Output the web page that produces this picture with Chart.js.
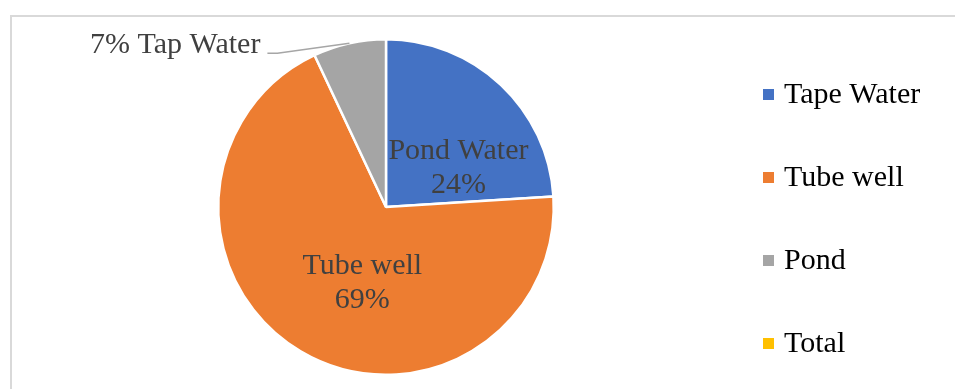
<!DOCTYPE html>
<html>
<head>
<meta charset="utf-8">
<script src="https://cdn.jsdelivr.net/npm/chart.js@4"></script>
<style>
  html, body { margin: 0; padding: 0; background: #fff; }
  #wrap { position: relative; width: 955px; height: 389px; overflow: hidden; }
  #frame { position: absolute; left: 10px; top: 15px; width: 1000px; height: 400px;
           border-left: 2px solid #d9d9d9; border-top: 2px solid #d9d9d9; }
  canvas { position: absolute; left: 0; top: 0; }
</style>
</head>
<body>
<div id="wrap">
  <div id="frame"></div>
  <canvas id="pie"></canvas>
</div>
<script>
const categories = ["Tape Water", "Tube well", "Pond", "Total"];
const shares = [24, 69, 7, 0];
// names printed on the slices themselves
const sliceNames = ["Pond Water", "Tube well", "Tap Water", ""];
const colors = ["#4472C4", "#ED7D31", "#A5A5A5", "#FFC000"];

const serif = "'Liberation Serif', 'Times New Roman', serif";

// nudges for the inside labels, relative to the arc's centre point
const insideShift = [[15, 22], [19, 4]];

const sliceLabels = {
  id: "sliceLabels",
  afterDatasetsDraw(chart) {
    const ctx = chart.ctx;
    const arcs = chart.getDatasetMeta(0).data;
    ctx.save();
    ctx.font = "30px " + serif;
    ctx.fillStyle = "#404040";
    ctx.textAlign = "center";
    ctx.textBaseline = "middle";
    arcs.forEach((arc, i) => {
      const v = shares[i];
      if (!v) return;
      const text = v + "%";
      if (v >= 10) {
        const p = arc.tooltipPosition();
        const x = p.x + insideShift[i][0];
        const y = p.y + insideShift[i][1];
        ctx.fillText(sliceNames[i], x, y - 17);
        ctx.fillText(text, x, y + 17);
      } else {
        // small slice: label outside with a leader line
        const { x, y, startAngle, endAngle, outerRadius } = arc.getProps(
          ["x", "y", "startAngle", "endAngle", "outerRadius"], true);
        const mid = (startAngle + endAngle) / 2;
        const ax = x + Math.cos(mid) * outerRadius;
        const ay = y + Math.sin(mid) * outerRadius;
        const ex = ax - 72, ey = ay + 10;
        ctx.strokeStyle = "#a6a6a6";
        ctx.lineWidth = 1.5;
        ctx.beginPath();
        ctx.moveTo(ax, ay);
        ctx.lineTo(ex, ey);
        ctx.lineTo(ex - 10, ey);
        ctx.stroke();
        ctx.textAlign = "right";
        ctx.fillText(text + " " + sliceNames[i], ex - 17, ey - 8);
        ctx.textAlign = "center";
      }
    });
    ctx.restore();
  }
};

const sideLegend = {
  id: "sideLegend",
  afterDraw(chart) {
    const ctx = chart.ctx;
    ctx.save();
    ctx.font = "30px " + serif;
    ctx.textBaseline = "middle";
    ctx.textAlign = "left";
    categories.forEach((name, i) => {
      const cy = 94 + i * 83;
      ctx.fillStyle = colors[i];
      ctx.fillRect(763, cy - 5, 11, 11);
      ctx.fillStyle = "#000";
      ctx.fillText(name, 784, cy + 1);
    });
    ctx.restore();
  }
};

new Chart(document.getElementById("pie"), {
  type: "pie",
  data: {
    labels: categories,
    datasets: [{
      data: shares,
      backgroundColor: colors,
      borderColor: "#fff",
      borderWidth: 2.5
    }]
  },
  options: {
    responsive: true,
    maintainAspectRatio: false,
    animation: false,
    layout: { padding: { left: 217, right: 400, top: 38, bottom: 13 } },
    plugins: {
      legend: { display: false },
      tooltip: { enabled: false }
    }
  },
  plugins: [sliceLabels, sideLegend]
});
</script>
</body>
</html>
